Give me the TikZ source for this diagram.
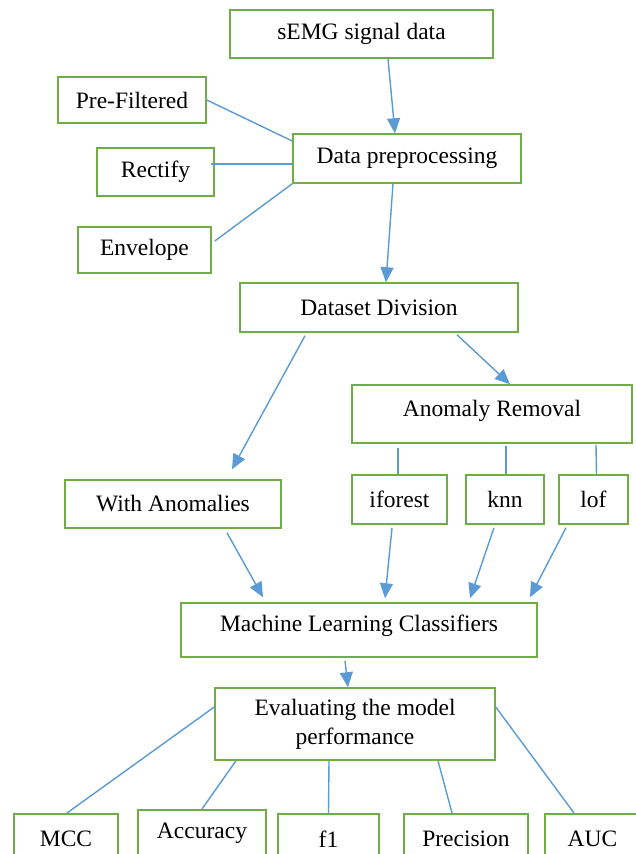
\documentclass[tikz,border=0pt]{standalone}
\usepackage{fontspec}
\setmainfont{Liberation Serif}
\usetikzlibrary{arrows.meta, positioning, calc}
\definecolor{boxgreen}{HTML}{70AD47}
\definecolor{lineblue}{HTML}{5B9BD5}
\tikzset{
    box/.style={draw=boxgreen, line width=1.5pt, fill=white, inner sep=2pt,
        font=\fontsize{23.5}{29}\selectfont},
    link/.style={draw=lineblue, line width=1.4pt},
    arr/.style={link, -{Triangle[length=15pt,width=13pt]}}
}
\begin{document}
\begin{tikzpicture}[x=1pt, y=-1pt]
\useasboundingbox (0,0) rectangle (636,854);
\clip (0,0) rectangle (636,854);
\fill[white] (0,0) rectangle (636,854);

% Input and preprocessing
\node[box, minimum width=263, minimum height=48] (semg) at (361.5,34) {sEMG signal data};
\node[box, minimum width=228, minimum height=49] (dprep) at (407,158.5) {Data preprocessing};
\node[box, minimum width=148, minimum height=46] (prefilt) at (132,100) {Pre-Filtered};
\node[box, minimum width=117, minimum height=48] (rectify) at (155.5,172) {Rectify};
\node[box, minimum width=133, minimum height=46] (envelope) at (144.5,250) {Envelope};

\draw[arr] ([xshift=26.5pt]semg.south) -- ([xshift=-12pt]dprep.north);
\draw[link] (prefilt.east) -- ([yshift=17.5pt]dprep.west);
\draw[link] ([xshift=-4pt,yshift=8pt]rectify.east) -- ([yshift=-5.5pt]dprep.west);
\draw[link] ([xshift=3pt,yshift=9pt]envelope.east) -- (dprep.south west);

% Division of the dataset
\node[box, minimum width=278, minimum height=49] (ddiv) at (379,307.5) {Dataset Division};
\node[box, minimum width=280, minimum height=58, text depth=12pt] (anrem) at (492,414) {Anomaly Removal};
\node[box, minimum width=216, minimum height=48] (withan) at (173,504) {With Anomalies};
\node[box, minimum width=95, minimum height=49] (iforest) at (399.5,499.5) {iforest};
\node[box, minimum width=78, minimum height=49] (knn) at (505,499.5) {knn};
\node[box, minimum width=69, minimum height=49] (lof) at (593.5,499.5) {lof};

\draw[arr] ([xshift=-14pt]dprep.south) -- ([xshift=7pt]ddiv.north);
\draw[arr] ([xshift=-74pt,yshift=-3pt]ddiv.south) -- ([xshift=59pt,yshift=10pt]withan.north);
\draw[arr] ([xshift=78pt,yshift=-2pt]ddiv.south) -- ([xshift=18pt]anrem.north);
\draw[link] ([xshift=-94pt,yshift=-4pt]anrem.south) -- ([xshift=-1.5pt]iforest.north);
\draw[link] ([xshift=14pt,yshift=-2pt]anrem.south) -- ([xshift=1pt]knn.north);
\draw[link] ([xshift=104pt,yshift=-1pt]anrem.south) -- ([xshift=3pt]lof.north);

% Classifiers and evaluation
\node[box, minimum width=356, minimum height=54, text depth=14pt] (mlc) at (359,630) {Machine Learning Classifiers};
\node[box, minimum width=280, minimum height=72, align=center] (evalm) at (355,724) {Evaluating the model\\performance};

\draw[arr] ([xshift=54pt,yshift=-4pt]withan.south) -- ([xshift=-96pt,yshift=5pt]mlc.north);
\draw[arr] ([xshift=-7.5pt,yshift=-3pt]iforest.south) -- ([xshift=26pt,yshift=4pt]mlc.north);
\draw[arr] ([xshift=-11pt,yshift=-3pt]knn.south) -- ([xshift=111pt,yshift=4pt]mlc.north);
\draw[arr] ([xshift=-27.5pt,yshift=-3pt]lof.south) -- ([xshift=171pt,yshift=5pt]mlc.north);
\draw[arr] ([xshift=-14pt,yshift=-3pt]mlc.south) -- ([xshift=-7pt]evalm.north);

% Metrics (cut by the lower edge)
\node[box, anchor=north, minimum width=104, minimum height=50] (mcc) at (66,813) {MCC};
\node[box, anchor=north, minimum width=128, minimum height=50, text depth=9pt] (accuracy) at (202,809) {Accuracy};
\node[box, anchor=north, minimum width=101, minimum height=50] (fone) at (328.5,813) {f1};
\node[box, anchor=north, minimum width=124, minimum height=50] (precision) at (466,813) {Precision};
\node[box, anchor=north, minimum width=95, minimum height=50] (auc) at (592.5,813) {AUC};

\draw[link] ([yshift=17pt]evalm.west) -- ([xshift=1pt]mcc.north);
\draw[link] ([xshift=-119pt]evalm.south) -- (accuracy.north);
\draw[link] ([xshift=-26pt]evalm.south) -- (fone.north);
\draw[link] ([xshift=83pt]evalm.south) -- ([xshift=-14pt]precision.north);
\draw[link] ([yshift=17pt]evalm.east) -- ([xshift=-18.5pt]auc.north);
\end{tikzpicture}
\end{document}
